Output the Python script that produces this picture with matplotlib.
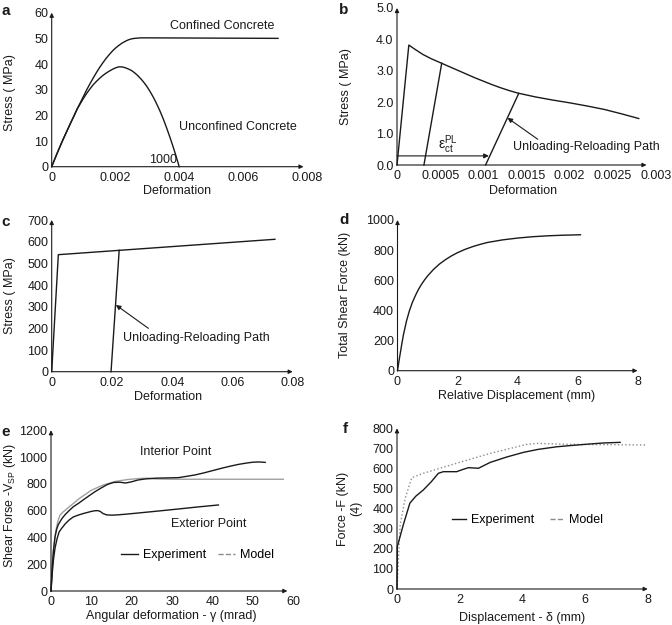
import matplotlib
matplotlib.use('Agg')
import matplotlib.pyplot as plt
from matplotlib.lines import Line2D

plt.rcParams['font.family'] = ['Liberation Sans', 'DejaVu Sans']
plt.rcParams['font.size'] = 9
plt.rcParams['mathtext.fontset'] = 'custom'
plt.rcParams['mathtext.rm'] = 'Liberation Sans'
plt.rcParams['mathtext.it'] = 'Liberation Sans:italic'

INK = '#1a1a1a'
GREY = '#8c8c8c'

#%%
# a - concrete in compression (both curves share the first branch)
conf_x = [0, 0.0001, 0.0002, 0.0003, 0.0004, 0.0005, 0.0006, 0.0007, 0.0008,
          0.0009, 0.001, 0.0011, 0.0012, 0.0013, 0.0014, 0.0015, 0.0016, 0.0017,
          0.0018, 0.0019, 0.002, 0.0021, 0.0022, 0.0023, 0.0024, 0.0025, 0.0026,
          0.0028, 0.003, 0.0071]
conf_y = [0, 3.1, 6.1, 9.0, 11.8, 14.5, 17.2, 19.8, 22.5,
          25.0, 27.5, 30.0, 32.3, 34.5, 36.6, 38.6, 40.4, 42.1,
          43.6, 45.0, 46.2, 47.2, 48.1, 48.8, 49.4, 49.8, 50.0,
          50.2, 50.2, 50.0]
unconf_x = [0, 0.0001, 0.0002, 0.0003, 0.0004, 0.0005, 0.0006, 0.0007, 0.0008,
            0.0009, 0.001, 0.0011, 0.0012, 0.0013, 0.0014, 0.0015, 0.0016, 0.0017,
            0.0018, 0.0019, 0.002, 0.0021, 0.0022, 0.0023, 0.0024, 0.0025, 0.0026,
            0.0027, 0.0028, 0.0029, 0.003, 0.0031, 0.0032, 0.0033, 0.0034, 0.0035,
            0.0036, 0.0037, 0.0038, 0.0039, 0.004]
unconf_y = [0, 3.1, 6.1, 9.0, 11.8, 14.5, 17.2, 19.8, 22.5,
            24.6, 26.7, 28.6, 30.3, 31.9, 33.2, 34.4, 35.5, 36.4,
            37.2, 37.9, 38.5, 38.9, 38.9, 38.6, 38.1, 37.5, 36.6,
            35.5, 34.2, 32.7, 31.0, 29.0, 26.8, 24.3, 21.6, 18.6,
            15.3, 11.8, 8.1, 4.2, 0]
a_xticks = [0, 0.002, 0.004, 0.006, 0.008]
a_xlabels = ['0', '0.002', '0.004', '0.006', '0.008']
a_yticks = [0, 10, 20, 30, 40, 50, 60]

# b - concrete in tension
b_env_x = [0, 0.000137, 0.0002, 0.0003, 0.0004, 0.0005, 0.0006, 0.0007, 0.0008,
           0.0009, 0.001, 0.0011, 0.0012, 0.0013, 0.0014, 0.0016, 0.0018, 0.002,
           0.0022, 0.0024, 0.0026, 0.0028]
b_env_y = [0, 3.82, 3.70, 3.52, 3.38, 3.26, 3.14, 3.02, 2.90,
           2.78, 2.67, 2.56, 2.46, 2.37, 2.29, 2.17, 2.07, 1.98,
           1.88, 1.77, 1.63, 1.48]
b_unl1_x = [0.000312, 0.000518]
b_unl1_y = [0, 3.24]
b_unl2_x = [0.001026, 0.00141]
b_unl2_y = [0, 2.28]
b_xticks = [0, 0.0005, 0.001, 0.0015, 0.002, 0.0025, 0.003]
b_xlabels = ['0', '0.0005', '0.001', '0.0015', '0.002', '0.0025', '0.003']
b_yticks = [0, 1, 2, 3, 4, 5]
b_ylabels = ['0.0', '1.0', '2.0', '3.0', '4.0', '5.0']

# c - steel
c_x = [0, 0.0022, 0.0741]
c_y = [0, 540, 611]
c_unl_x = [0.0197, 0.0224]
c_unl_y = [0, 560]
c_xticks = [0, 0.02, 0.04, 0.06, 0.08]
c_xlabels = ['0', '0.02', '0.04', '0.06', '0.08']
c_yticks = [0, 100, 200, 300, 400, 500, 600, 700]

# d - shear force vs relative displacement
d_x = [0, 0.05, 0.1, 0.15, 0.2, 0.3, 0.4, 0.5, 0.6, 0.7, 0.8, 0.9, 1.0, 1.2, 1.4,
       1.6, 1.8, 2.0, 2.25, 2.5, 2.75, 3.0, 3.5, 4.0, 4.5, 5.0, 5.5, 6.1]
d_y = [0, 65, 125, 185, 240, 330, 400, 455, 500, 540, 573, 602, 628, 672, 708,
       737, 762, 783, 805, 823, 838, 851, 868, 880, 889, 895, 899, 902]
d_xticks = [0, 2, 4, 6, 8]
d_yticks = [0, 200, 400, 600, 800, 1000]

# e - panel zone shear
e_int_x = [0, 0.3, 0.6, 1.0, 1.4, 1.8, 2.7, 3.5, 4.5, 5.5, 6.8, 8, 9.5, 10.9,
           12.5, 14, 15.5, 17, 18.5, 20, 21.5, 23.3, 26, 29, 31.6, 33.5, 35.7,
           38, 40, 42.3, 44.5, 46.5, 48.5, 50, 51.5, 53.1]
e_int_y = [0, 170, 300, 405, 460, 495, 540, 570, 600, 628, 654, 680, 712, 741,
           770, 795, 810, 812, 806, 815, 828, 836, 842, 844, 846, 855, 866,
           882, 898, 916, 932, 945, 955, 961, 963, 960]
e_mod_x = [0, 0.3, 0.7, 1.2, 1.7, 2.2, 3, 4, 5, 7, 10, 13, 16, 19, 22, 24, 26, 30, 57.6]
e_mod_y = [0, 180, 330, 450, 520, 565, 590, 615, 640, 690, 752, 792, 818, 832,
           840, 842, 836, 834, 834]
e_ext_x = [0, 0.3, 0.6, 1.0, 1.5, 2.0, 2.65, 3.5, 4.5, 5.5, 6.8, 8, 9, 10, 10.9,
           11.6, 12.2, 12.9, 13.8, 15, 16.5, 19.2, 25, 31.6, 36, 41.5]
e_ext_y = [0, 130, 231, 320, 390, 440, 468, 500, 530, 552, 567, 578, 586, 594, 599,
           600, 594, 578, 568, 566, 568, 575, 592, 612, 626, 642]
e_xticks = [0, 10, 20, 30, 40, 50, 60]
e_yticks = [0, 200, 400, 600, 800, 1000, 1200]

# f - force vs displacement
f_exp_x = [0, 0.01, 0.2, 0.41, 0.6, 0.84, 1.1, 1.32, 1.48, 1.9, 2.1, 2.28, 2.6,
           2.97, 3.5, 4.03, 4.5, 5.1, 5.6, 6.16, 6.6, 7.12]
f_exp_y = [0, 211, 319, 427, 462, 493, 535, 576, 584, 584, 595, 604, 601,
           630, 657, 680, 695, 708, 715, 722, 727, 730]
f_mod_x = [0, 0.1, 0.26, 0.47, 0.84, 1.9, 2.97, 4.14, 4.46, 5.5, 7.97]
f_mod_y = [0, 319, 451, 554, 576, 626, 675, 720, 725, 720, 717]
f_xticks = [0, 2, 4, 6, 8]
f_yticks = [0, 100, 200, 300, 400, 500, 600, 700, 800]


#%%
def frame(ax, xlim, ylim, xend, xticks, yticks, xlabels=None, ylabels=None):
    '''Hide the box and draw the two axes as arrows'''
    for s in ax.spines.values():
        s.set_visible(False)
    ax.patch.set_visible(False)
    ax.set_xlim(xlim)
    ax.set_ylim(ylim)
    arrow = dict(arrowstyle='-|>', color=INK, lw=0.8, mutation_scale=6,
                 shrinkA=0, shrinkB=0)
    ax.annotate('', xy=(xend, ylim[0]), xytext=(xlim[0], ylim[0]),
                arrowprops=arrow, annotation_clip=False)
    ax.annotate('', xy=(xlim[0], ylim[1]), xytext=(xlim[0], ylim[0]),
                arrowprops=arrow, annotation_clip=False)
    ax.set_xticks(xticks)
    ax.set_yticks(yticks)
    if xlabels is not None:
        ax.set_xticklabels(xlabels)
    if ylabels is not None:
        ax.set_yticklabels(ylabels)
    ax.tick_params(length=0, colors=INK)
    ax.tick_params(axis='x', pad=3.5)
    ax.tick_params(axis='y', pad=2.5)


def labels(ax, xl, yl, xpos, ypos):
    ax.set_xlabel(xl, color=INK)
    ax.set_ylabel(yl, color=INK)
    ax.xaxis.set_label_coords(*xpos)
    ax.yaxis.set_label_coords(*ypos)


def line(ax, x, y, **kw):
    kw.setdefault('color', INK)
    kw.setdefault('lw', 1.0)
    return ax.plot(x, y, clip_on=False, solid_joinstyle='round', **kw)[0]


def pointer(ax, head, tail):
    ax.annotate('', xy=head, xytext=tail,
                arrowprops=dict(arrowstyle='-|>', color=INK, lw=0.8, mutation_scale=7,
                                shrinkA=0, shrinkB=0))


W, H = 672, 625
fig = plt.figure(figsize=(W / 100, H / 100), dpi=100)


def px_axes(left, top, right, bottom):
    return fig.add_axes([left / W, 1 - bottom / H, (right - left) / W, (bottom - top) / H])


ax_a = px_axes(51.7, 12.7, 306.7, 166.7)
ax_b = px_axes(397, 8, 656, 165)
ax_c = px_axes(51.7, 220, 292.7, 371.7)
ax_d = px_axes(397.5, 220, 637.5, 370.7)
ax_e = px_axes(51, 430.2, 293, 591)
ax_f = px_axes(397, 428.3, 647.7, 589)

# a
frame(ax_a, (0, 0.008), (0, 60), 0.0079, a_xticks, a_yticks, a_xlabels)
line(ax_a, conf_x, conf_y)
line(ax_a, unconf_x, unconf_y)
ax_a.text(0.00536, 55, 'Confined Concrete', ha='center', va='center', color=INK)
ax_a.text(0.00583, 15.6, 'Unconfined Concrete', ha='center', va='center', color=INK)
ax_a.text(0.00348, 2.6, '1000', ha='center', va='center', color=INK)
labels(ax_a, 'Deformation', 'Stress ( MPa)', (0.49, -0.12), (-0.14, 0.48))

# b
frame(ax_b, (0, 0.003), (0, 5), 0.00289, b_xticks, b_yticks, b_xlabels, b_ylabels)
line(ax_b, b_env_x, b_env_y)
line(ax_b, b_unl1_x, b_unl1_y)
line(ax_b, b_unl2_x, b_unl2_y)
pointer(ax_b, (0.001064, 0.29), (0, 0.29))
ax_b.text(0.000587, 0.66, r'ε$_{\rm ct}^{\rm PL}$', ha='center', va='center',
          color=INK, fontsize=10)
ax_b.text(0.00219, 0.58, 'Unloading-Reloading Path', ha='center', va='center', color=INK)
pointer(ax_b, (0.00128, 1.5), (0.00163, 0.82))
labels(ax_b, 'Deformation', 'Stress ( MPa)', (0.485, -0.13), (-0.175, 0.5))

# c
frame(ax_c, (0, 0.08), (0, 700), 0.08, c_xticks, c_yticks, c_xlabels)
line(ax_c, c_x, c_y)
line(ax_c, c_unl_x, c_unl_y)
ax_c.text(0.048, 154, 'Unloading-Reloading Path', ha='center', va='center', color=INK)
pointer(ax_c, (0.0213, 308), (0.0321, 200))
labels(ax_c, 'Deformation', 'Stress ( MPa)', (0.484, -0.124), (-0.15, 0.5))

# d
frame(ax_d, (0, 8), (0, 1000), 8, d_xticks, d_yticks)
line(ax_d, d_x, d_y)
labels(ax_d, 'Relative Displacement (mm)', 'Total Shear Force (kN)',
       (0.497, -0.131), (-0.195, 0.5))

# e
frame(ax_e, (0, 60), (0, 1200), 58.6, e_xticks, e_yticks)
line(ax_e, e_mod_x, e_mod_y, color='#a0a0a0', lw=1.0)
line(ax_e, e_int_x, e_int_y)
line(ax_e, e_ext_x, e_ext_y)
ax_e.text(30.8, 1037, 'Interior Point', ha='center', va='center', color=INK)
ax_e.text(39.2, 500, 'Exterior Point', ha='center', va='center', color=INK)
ax_e.legend([Line2D([], [], color=INK, lw=1.0), Line2D([], [], color=GREY, lw=1.0, ls='--')],
            ['Experiment', 'Model'], ncol=2, frameon=False, loc='center',
            bbox_to_anchor=(0.605, 0.224), handlelength=1.3, handletextpad=0.4,
            columnspacing=1.0, borderpad=0, fontsize=9)
labels(ax_e, 'Angular deformation - γ (mrad)', r'Shear Forse -V$_{\rm SP}$ (kN)',
       (0.495, -0.12), (-0.135, 0.53))

# f
frame(ax_f, (0, 8), (0, 800), 8, f_xticks, f_yticks)
line(ax_f, f_mod_x, f_mod_y, color=GREY, lw=1.0, ls=':')
line(ax_f, f_exp_x, f_exp_y)
ax_f.legend([Line2D([], [], color=INK, lw=1.0), Line2D([], [], color=GREY, lw=1.0, ls='--')],
            ['Experiment', 'Model'], ncol=2, frameon=False, loc='center',
            bbox_to_anchor=(0.52, 0.43), handlelength=1.1, handletextpad=0.4,
            columnspacing=1.3, borderpad=0, fontsize=9)
labels(ax_f, 'Displacement - δ (mm)', 'Force -F (kN)\n(4)', (0.498, -0.143), (-0.137, 0.5))

# panel letters
for lab, (x, y) in zip('abcdef', [(5.5, 11), (343.5, 10), (6, 222), (344, 220),
                                   (6, 432), (345, 429)]):
    fig.text(x / W, 1 - y / H, lab, weight='bold', fontsize=11, ha='center',
             va='center', color=INK)

fig.savefig('out.png', dpi=100)
